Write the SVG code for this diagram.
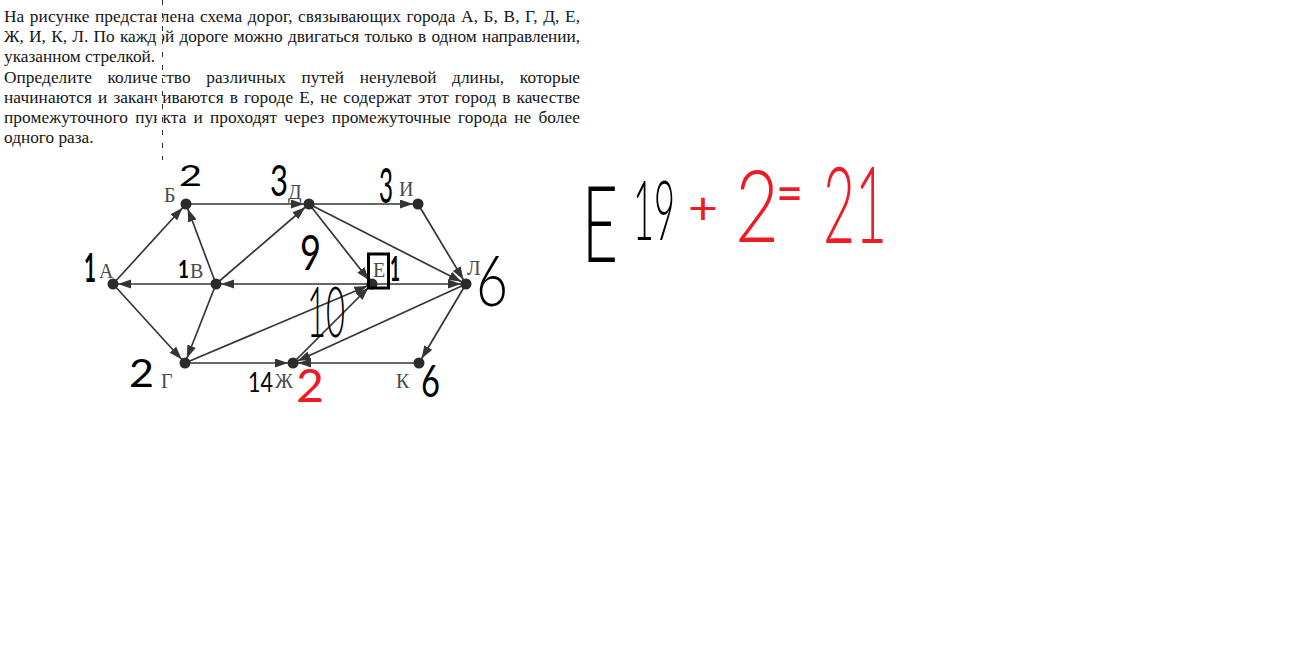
<svg xmlns="http://www.w3.org/2000/svg" width="1301" height="648" viewBox="0 0 1301 648">
<defs>
<style>
.t{font-family:"Liberation Serif","Times New Roman",serif;font-size:17.3px;fill:#151515}
.lbl{font-family:"Liberation Serif","Times New Roman",serif;font-size:20px;fill:#4a4a4a}
.e{stroke:#353535;stroke-width:1.7;fill:none;marker-end:url(#ah)}
.n{fill:#2b2b2b}
.hw{font-family:Lato,"Liberation Sans",sans-serif;fill:#000;stroke:#000;stroke-linejoin:round;stroke-width:0}
.red{fill:#ed1c24;stroke:#ed1c24}
</style>
<marker id="ah" markerUnits="userSpaceOnUse" markerWidth="20" markerHeight="12" refX="18" refY="4.5" orient="auto">
<path d="M0,0 L13,4.5 L0,9 Z" fill="#353535"/>
</marker>
</defs>
<rect width="1301" height="648" fill="#fff"/>

<g id="problem-text">
<text class="t" x="4" y="22" word-spacing="1.1" textLength="576" lengthAdjust="spacing">На рисунке представлена схема дорог, связывающих города А, Б, В, Г, Д, Е,</text>
<text class="t" x="4" y="42.2" word-spacing="1.1" textLength="576" lengthAdjust="spacing">Ж, И, К, Л. По каждой дороге можно двигаться только в одном направлении,</text>
<text class="t" x="4" y="62.3">указанном стрелкой.</text>
<text class="t" x="4" y="82.5" word-spacing="11.2" textLength="576" lengthAdjust="spacing">Определите количество различных путей ненулевой длины, которые</text>
<text class="t" x="4" y="102.7" word-spacing="1.6" textLength="576" lengthAdjust="spacing">начинаются и заканчиваются в городе Е, не содержат этот город в качестве</text>
<text class="t" x="4" y="122.8" word-spacing="2.7" textLength="576" lengthAdjust="spacing">промежуточного пункта и проходят через промежуточные города не более</text>
<text class="t" x="4" y="143">одного раза.</text>
<rect x="157" y="0" width="5" height="150" fill="#fff"/>
<line x1="162.5" y1="0" x2="162.5" y2="160" stroke="#333" stroke-width="1" stroke-dasharray="5 8"/>
</g>

<g id="connectors">
<line class="e" x1="113" y1="284" x2="186" y2="204"/>
<line class="e" x1="113" y1="284" x2="185" y2="363"/>
<line class="e" x1="216" y1="284" x2="113" y2="284"/>
<line class="e" x1="216" y1="284" x2="186" y2="204"/>
<line class="e" x1="216" y1="284" x2="309" y2="204"/>
<line class="e" x1="216" y1="284" x2="185" y2="363"/>
<line class="e" x1="186" y1="204" x2="309" y2="204"/>
<line class="e" x1="309" y1="204" x2="418" y2="204"/>
<line class="e" x1="309" y1="204" x2="372" y2="284"/>
<line class="e" x1="309" y1="204" x2="466" y2="284"/>
<line class="e" x1="418" y1="204" x2="466" y2="284"/>
<line class="e" x1="372" y1="284" x2="216" y2="284"/>
<line class="e" x1="372" y1="284" x2="466" y2="284"/>
<line class="e" x1="185" y1="363" x2="293" y2="363"/>
<line class="e" x1="185" y1="363" x2="372" y2="284"/>
<line class="e" x1="293" y1="363" x2="372" y2="284"/>
<line class="e" x1="466" y1="284" x2="293" y2="363"/>
<line class="e" x1="466" y1="284" x2="419" y2="363"/>
<line class="e" x1="419" y1="363" x2="293" y2="363"/>
</g>

<g id="node-A"><circle class="n" cx="113" cy="284" r="5.5"/><text class="lbl" x="99" y="278">А</text></g>
<g id="node-B"><circle class="n" cx="186" cy="204" r="5.5"/><text class="lbl" x="164" y="202">Б</text></g>
<g id="node-V"><circle class="n" cx="216" cy="284" r="5.5"/><text class="lbl" x="190" y="278">В</text></g>
<g id="node-G"><circle class="n" cx="185" cy="363" r="5.5"/><text class="lbl" x="161" y="388">Г</text></g>
<g id="node-D"><circle class="n" cx="309" cy="204" r="5.5"/><text class="lbl" x="288" y="199">Д</text></g>
<g id="node-I"><circle class="n" cx="418" cy="204" r="5.5"/><text class="lbl" x="399" y="196">И</text></g>
<g id="node-E"><circle class="n" cx="372" cy="284" r="5.5"/><text class="lbl" x="373" y="277">Е</text></g>
<g id="node-L"><circle class="n" cx="466" cy="284" r="5.5"/><text class="lbl" x="467" y="275">Л</text></g>
<g id="node-Zh"><circle class="n" cx="293" cy="363" r="5.5"/><text class="lbl" x="275" y="388">Ж</text></g>
<g id="node-K"><circle class="n" cx="419" cy="363" r="5.5"/><text class="lbl" x="396" y="388">К</text></g>

<g id="handwriting">
<text class="hw" x="84" y="282" font-size="40" font-weight="700" textLength="12" lengthAdjust="spacingAndGlyphs">1</text>
<text class="hw" x="179" y="186" font-size="28" font-weight="400" stroke-width="1" textLength="23" lengthAdjust="spacingAndGlyphs">2</text>
<text class="hw" x="270" y="196" font-size="42" font-weight="400" stroke-width="0.8" textLength="18" lengthAdjust="spacingAndGlyphs">3</text>
<text class="hw" x="379" y="203" font-size="48" font-weight="400" stroke-width="0.8" textLength="14" lengthAdjust="spacingAndGlyphs">3</text>
<text class="hw" x="178" y="278" font-size="25" font-weight="700" textLength="11" lengthAdjust="spacingAndGlyphs">1</text>
<text class="hw" x="300" y="270" font-size="48" font-weight="400" stroke-width="0.8" textLength="21" lengthAdjust="spacingAndGlyphs">9</text>
<rect x="368.5" y="254" width="20" height="34" fill="none" stroke="#000" stroke-width="3"/>
<text class="hw" x="390" y="281" font-size="34" font-weight="700" textLength="10" lengthAdjust="spacingAndGlyphs">1</text>
<text class="hw" x="476" y="306" font-size="70" font-weight="300" stroke-width="2" textLength="32" lengthAdjust="spacingAndGlyphs">6</text>
<text class="hw" x="129" y="387" font-size="39" font-weight="400" stroke-width="1.2" textLength="25" lengthAdjust="spacingAndGlyphs">2</text>
<text class="hw" x="248" y="392" font-size="26" font-weight="400" textLength="25" lengthAdjust="spacingAndGlyphs">14</text>
<text class="hw red" x="296" y="402" font-size="47" font-weight="400" stroke-width="1.2" textLength="28" lengthAdjust="spacingAndGlyphs">2</text>
<text class="hw" x="421" y="397" font-size="45" font-weight="400" stroke-width="0.8" textLength="19" lengthAdjust="spacingAndGlyphs">6</text>
<text class="hw" x="307" y="337" font-size="70" font-weight="300" stroke-width="2" textLength="38" lengthAdjust="spacingAndGlyphs">10</text>
<text class="hw" x="582" y="262" font-size="106" font-weight="300" stroke-width="2.5" textLength="36" lengthAdjust="spacingAndGlyphs">Е</text>
<text class="hw" x="633" y="240" font-size="82" font-weight="300" stroke-width="2" textLength="42" lengthAdjust="spacingAndGlyphs">19</text>
<text class="hw red" x="688" y="224" font-size="44" font-weight="400" stroke-width="1.2" textLength="30" lengthAdjust="spacingAndGlyphs">+</text>
<text class="hw red" x="735" y="242" font-size="100" font-weight="300" stroke-width="2.5" textLength="44" lengthAdjust="spacingAndGlyphs">2</text>
<text class="hw red" x="776" y="212" font-size="55" font-weight="400" stroke-width="1" textLength="27" lengthAdjust="spacingAndGlyphs">=</text>
<text class="hw red" x="823" y="243" font-size="106" font-weight="300" stroke-width="2.5" textLength="64" lengthAdjust="spacingAndGlyphs">21</text>
</g>
</svg>
